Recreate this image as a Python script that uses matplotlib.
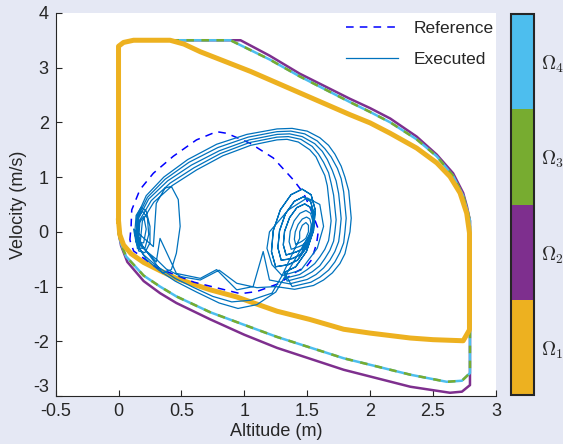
import numpy as np
import matplotlib
matplotlib.use("Agg")
import matplotlib.pyplot as plt
from matplotlib.colors import ListedColormap, BoundaryNorm
from matplotlib.cm import ScalarMappable

plt.rcParams["font.family"] = ["Liberation Sans", "DejaVu Sans"]
plt.rcParams["mathtext.fontset"] = "cm"
plt.rcParams["axes.unicode_minus"] = False

# region boundaries (altitude, velocity)
omega1_x = [0.0, 0.0, 0.04, 0.12, 0.41, 0.52, 0.65, 1.05, 1.44, 1.84, 2.0, 2.16, 2.37, 2.53, 2.635,
            2.715, 2.768, 2.79, 2.79, 2.74, 2.5, 2.32, 2.0, 1.79, 1.52, 1.26, 1.1, 0.94, 0.73, 0.6,
            0.46, 0.33, 0.2, 0.1, 0.04, 0.01, 0.0]
omega1_y = [0.2, 3.39, 3.46, 3.5, 3.5, 3.43, 3.29, 2.93, 2.54, 2.14, 1.99, 1.80, 1.53, 1.26, 1.01,
            0.71, 0.34, -0.02, -1.79, -1.99, -1.97, -1.94, -1.85, -1.78, -1.60, -1.45, -1.32, -1.19,
            -1.06, -0.96, -0.85, -0.71, -0.56, -0.4, -0.24, -0.05, 0.2]

omega2_x = [0.0, 0.0, 0.04, 0.12, 0.97, 1.2, 1.44, 1.84, 2.0, 2.16, 2.37, 2.53, 2.66, 2.74, 2.77,
            2.794, 2.794, 2.73, 2.635, 2.32, 1.79, 1.26, 1.0, 0.73, 0.46, 0.33, 0.2, 0.07, 0.02, 0.0]
omega2_y = [0.0, 3.39, 3.46, 3.5, 3.5, 3.22, 2.89, 2.43, 2.26, 2.07, 1.74, 1.41, 1.07, 0.71, 0.46,
            0.2, -2.8, -2.92, -2.94, -2.83, -2.52, -2.12, -1.88, -1.6, -1.3, -1.12, -0.9, -0.55,
            -0.25, 0.0]

omega4_x = [0.0, 0.0, 0.04, 0.12, 0.89, 1.2, 1.44, 1.84, 2.0, 2.16, 2.37, 2.53, 2.66, 2.74, 2.77,
            2.794, 2.794, 2.73, 2.61, 2.32, 1.79, 1.26, 1.0, 0.73, 0.46, 0.33, 0.2, 0.06, 0.02, 0.0]
omega4_y = [0.0, 3.39, 3.46, 3.5, 3.5, 3.15, 2.84, 2.37, 2.19, 2.0, 1.69, 1.38, 1.02, 0.66, 0.42,
            0.2, -2.58, -2.72, -2.74, -2.61, -2.31, -1.92, -1.7, -1.47, -1.18, -1.0, -0.8, -0.45,
            -0.22, 0.0]
omega3_x = omega4_x
omega3_y = omega4_y

# reference trajectory
ref_x = [0.09, 0.1, 0.105, 0.17, 0.277, 0.435, 0.62, 0.78, 0.86, 1.045, 1.23, 1.39, 1.47, 1.52,
         1.56, 1.59, 1.575, 1.535, 1.495, 1.39, 1.28, 1.1, 0.97, 0.6, 0.3, 0.12, 0.09]
ref_y = [-0.15, 0.1, 0.40, 0.77, 1.07, 1.38, 1.68, 1.83, 1.80, 1.62, 1.35, 0.95, 0.71, 0.46, 0.22,
         0.04, -0.21, -0.51, -0.63, -0.76, -0.94, -1.09, -1.13, -0.92, -0.65, -0.35, -0.15]

# executed trajectory, piece by piece
left_loops = [(0.15, -0.3), (0.13, 0.0), (0.14, 0.3), (0.18, 0.45), (0.22, 0.38), (0.25, 0.1),
              (0.25, -0.2), (0.21, -0.38), (0.16, -0.35), (0.14, -0.1), (0.15, 0.25), (0.19, 0.38),
              (0.23, 0.25), (0.24, -0.05), (0.21, -0.3), (0.17, -0.3), (0.15, -0.1), (0.16, 0.15),
              (0.2, 0.28), (0.22, 0.05), (0.2, -0.2), (0.16, -0.2)]
strand1 = [(0.145, -0.05), (0.15, 0.3), (0.22, 0.66), (0.36, 1.0), (0.55, 1.32), (0.78, 1.6),
           (1.02, 1.78), (1.26, 1.88), (1.38, 1.89), (1.5, 1.84), (1.6, 1.72), (1.67, 1.58),
           (1.72, 1.42), (1.77, 1.2), (1.8, 1.0), (1.83, 0.75), (1.84, 0.5), (1.85, 0.25),
           (1.84, 0.0), (1.82, -0.2), (1.8, -0.4), (1.76, -0.58), (1.7, -0.75), (1.63, -0.88),
           (1.55, -0.98), (1.40, -1.05)]
strand2 = [(0.15, -0.1), (0.155, 0.28), (0.23, 0.63), (0.37, 0.96), (0.56, 1.27), (0.79, 1.54),
           (1.03, 1.73), (1.26, 1.83), (1.37, 1.84), (1.48, 1.79), (1.58, 1.66), (1.64, 1.52),
           (1.69, 1.37), (1.74, 1.16), (1.77, 0.97), (1.79, 0.73), (1.8, 0.5), (1.81, 0.25),
           (1.8, 0.0), (1.79, -0.2), (1.76, -0.38), (1.72, -0.55), (1.67, -0.7), (1.6, -0.83),
           (1.53, -0.92), (1.38, -1.0)]
strand3 = [(0.155, -0.15), (0.16, 0.25), (0.24, 0.6), (0.39, 0.93), (0.58, 1.22), (0.8, 1.48),
           (1.04, 1.68), (1.26, 1.78), (1.36, 1.79), (1.46, 1.74), (1.56, 1.61), (1.62, 1.47),
           (1.66, 1.32), (1.7, 1.12), (1.73, 0.93), (1.75, 0.7), (1.76, 0.48), (1.77, 0.24),
           (1.76, 0.0), (1.75, -0.18), (1.72, -0.36), (1.68, -0.52), (1.63, -0.66), (1.57, -0.78),
           (1.5, -0.87), (1.36, -0.95)]
strand4 = [(0.16, -0.2), (0.17, 0.22), (0.26, 0.57), (0.41, 0.89), (0.6, 1.17), (0.81, 1.43),
           (1.04, 1.63), (1.26, 1.73), (1.35, 1.74), (1.45, 1.69), (1.54, 1.56), (1.59, 1.42),
           (1.63, 1.27), (1.67, 1.08), (1.69, 0.89), (1.71, 0.67), (1.72, 0.45), (1.73, 0.22),
           (1.72, 0.0), (1.71, -0.17), (1.68, -0.34), (1.64, -0.49), (1.6, -0.62), (1.54, -0.73),
           (1.47, -0.82), (1.34, -0.9)]
strand5 = [(0.17, -0.25), (0.19, 0.2), (0.28, 0.54), (0.43, 0.85), (0.62, 1.13), (0.83, 1.39),
           (1.05, 1.58), (1.26, 1.68), (1.34, 1.69), (1.43, 1.64), (1.52, 1.5), (1.57, 1.37),
           (1.6, 1.22), (1.64, 1.03), (1.66, 0.84), (1.67, 0.63), (1.68, 0.42), (1.69, 0.2),
           (1.68, 0.0), (1.67, -0.16), (1.64, -0.32), (1.6, -0.46), (1.56, -0.58), (1.5, -0.69),
           (1.44, -0.78), (1.32, -0.85)]
return1 = [(1.25, -1.0), (1.1, -1.02), (0.94, -0.94), (0.8, -0.7), (0.65, -0.88), (0.5, -0.82),
           (0.38, -0.68), (0.3, -0.5), (0.22, -0.35), (0.16, -0.22), (0.13, -0.05)]
return2 = [(1.22, -1.12), (1.05, -1.25), (0.9, -1.28), (0.75, -1.18), (0.6, -1.02), (0.45, -0.85),
           (0.3, -0.62), (0.2, -0.42), (0.14, -0.2), (0.12, 0.05)]
return3 = [(1.2, -0.88), (1.15, -0.36), (1.07, -1.0), (0.94, -1.06), (0.78, -0.69), (0.65, -0.85),
           (0.46, -0.76), (0.33, -0.12), (0.3, -0.55), (0.2, -0.3), (0.14, 0.0)]
return4 = [(1.25, -1.1), (1.1, -1.33), (0.95, -1.4), (0.8, -1.3), (0.62, -1.1), (0.45, -0.9),
           (0.32, -0.7), (0.22, -0.5), (0.15, -0.25)]
left_oval = [(0.277, -0.27), (0.30, 0.52), (0.37, 0.80), (0.42, 0.83), (0.475, 0.59), (0.49, 0.10),
             (0.46, -0.39), (0.42, -0.69), (0.35, -0.75)]
spiral = [(1.32, -0.74), (1.409, -0.638), (1.494, -0.36), (1.55, 0.02), (1.564, 0.40), (1.531, 0.678),
          (1.46, 0.78), (1.371, 0.678), (1.286, 0.40), (1.23, 0.02), (1.216, -0.36), (1.249, -0.638),
          (1.35, -0.60), (1.423, -0.517), (1.493, -0.29), (1.54, 0.02), (1.553, 0.33), (1.527, 0.557),
          (1.47, 0.64), (1.397, 0.557), (1.327, 0.33), (1.28, 0.02), (1.267, -0.29), (1.293, -0.517),
          (1.38, -0.49), (1.442, -0.423), (1.50, -0.24), (1.54, 0.01), (1.55, 0.26), (1.528, 0.443),
          (1.48, 0.51), (1.418, 0.443), (1.36, 0.26), (1.32, 0.01), (1.31, -0.24), (1.332, -0.423),
          (1.41, -0.37), (1.458, -0.319), (1.504, -0.18), (1.535, 0.01), (1.544, 0.20), (1.527, 0.339),
          (1.49, 0.39), (1.442, 0.339), (1.396, 0.20), (1.365, 0.01), (1.356, -0.18), (1.373, -0.319),
          (1.435, -0.27), (1.469, -0.234), (1.502, -0.135), (1.525, 0.0), (1.532, 0.135), (1.521, 0.234),
          (1.495, 0.27), (1.461, 0.234), (1.428, 0.135), (1.405, 0.0), (1.398, -0.135), (1.409, -0.234),
          (1.46, -0.17), (1.489, -0.12), (1.51, 0.0), (1.51, 0.12), (1.49, 0.17), (1.461, 0.12),
          (1.44, 0.0), (1.44, -0.12)]
spiral_outer = [(1.3, -0.8), (1.45, -0.7), (1.58, -0.3), (1.63, 0.1), (1.6, 0.5), (1.5, 0.62),
                (1.35, 0.4), (1.2, 0.0), (1.18, -0.3), (1.22, -0.6), (1.3, -0.8)]

executed = (left_loops + strand1 + return1 + strand2 + spiral + spiral_outer + return2
            + left_oval + strand3 + return3 + strand4 + spiral[:40] + return4 + strand5)
exec_x, exec_y = np.array(executed).T

region_colors = ["#EDB120", "#7E2F8E", "#77AC30", "#4DBEEE"]
region_labels = [r"$\Omega_1$", r"$\Omega_2$", r"$\Omega_3$", r"$\Omega_4$"]
ink = "#262626"

fig = plt.figure(figsize=(5.63, 4.44), dpi=100, facecolor="#E5E8F4")
ax = fig.add_axes([0.0988, 0.108, 0.782, 0.863])

ax.plot(omega2_x, omega2_y, color=region_colors[1], lw=1.8, zorder=2)
ax.plot(omega4_x, omega4_y, color=region_colors[3], lw=1.8, zorder=2)
ax.plot(omega3_x, omega3_y, color=region_colors[2], lw=1.8, dashes=(3, 3), zorder=2)
ax.plot(omega1_x, omega1_y, color=region_colors[0], lw=3.6, zorder=2.5)

ax.plot(ref_x, ref_y, color=(0, 0, 1), lw=1.1, dashes=(5, 4), zorder=3, label="Reference")
ax.plot(exec_x, exec_y, color="#0072BD", lw=0.9, zorder=3.1, label="Executed")

ax.set_xlim(-0.5, 3)
ax.set_ylim(-3, 4)
ax.set_xticks(np.arange(-0.5, 3.01, 0.5))
ax.set_xticklabels(["-0.5", "0", "0.5", "1", "1.5", "2", "2.5", "3"])
ax.set_yticks(range(-3, 5))
ax.tick_params(direction="in", length=4, width=0.8, color=ink, labelcolor=ink, labelsize=13, pad=5)
# lift the lowest velocity label clear of the altitude labels
ax.get_yticklabels()[0].set_verticalalignment("bottom")
for side in ("top", "right"):
    ax.spines[side].set_visible(False)
for side in ("left", "bottom"):
    ax.spines[side].set_color(ink)
    ax.spines[side].set_linewidth(0.8)
ax.set_xlabel("Altitude (m)", fontsize=13, color=ink, labelpad=2)
ax.set_ylabel("Velocity (m/s)", fontsize=13, color=ink, labelpad=4)

leg = ax.legend(loc="upper right", bbox_to_anchor=(1.012, 0.997), frameon=False, fontsize=12.5,
                handlelength=3.0, handletextpad=0.9, labelspacing=0.9, borderaxespad=0.0)
for t in leg.get_texts():
    t.set_color(ink)

cax = fig.add_axes([0.907, 0.110, 0.041, 0.858])
sm = ScalarMappable(norm=BoundaryNorm([0, 1, 2, 3, 4], 4), cmap=ListedColormap(region_colors))
cb = fig.colorbar(sm, cax=cax, ticks=[0.5, 1.5, 2.5, 3.5])
cb.set_ticklabels(region_labels)
cax.minorticks_off()
cax.tick_params(which="both", length=0, labelsize=14, labelcolor=ink, pad=5)
cb.outline.set_edgecolor(ink)
cb.outline.set_linewidth(1.5)

fig.savefig("out.png", dpi=100, facecolor=fig.get_facecolor())
